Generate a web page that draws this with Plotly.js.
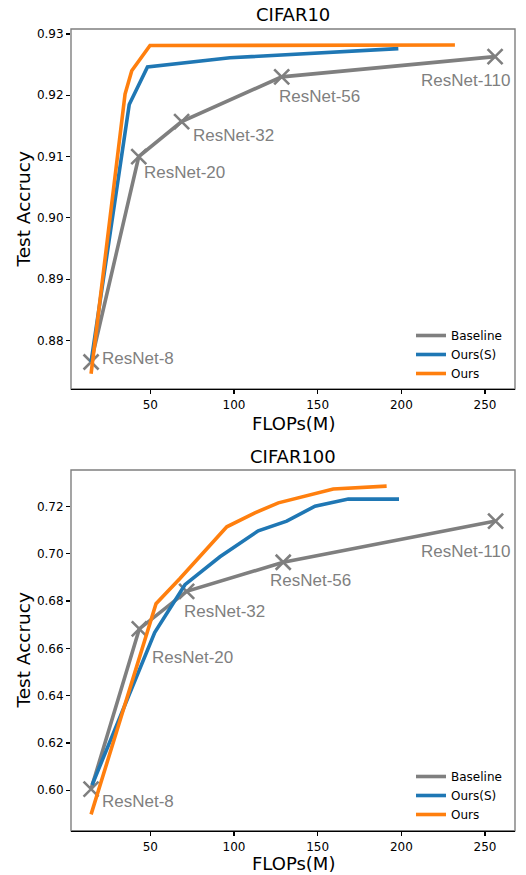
<!DOCTYPE html>
<html>
<head>
<meta charset="utf-8">
<script src="https://cdn.plot.ly/plotly-3.0.1.min.js"></script>
<style>html,body{margin:0;padding:0;background:#fff;}#chart{width:526px;height:875px;}</style>
</head>
<body>
<div id="chart"></div>
<script>
// ---- data ----
const modelNames = ["ResNet-8", "ResNet-20", "ResNet-32", "ResNet-56", "ResNet-110"];

// CIFAR10
const c10BaseX = [14.6, 43.1, 68.7, 128.5, 256.0];
const c10BaseY = [0.8765, 0.9100, 0.9157, 0.9230, 0.9263];
const c10SX = [14.6, 37.4, 48.3, 97.6, 198.2];
const c10SY = [0.8765, 0.9185, 0.9246, 0.9261, 0.9276];
const c10OX = [14.6, 34.9, 38.9, 49.8, 232.0];
const c10OY = [0.8746, 0.9202, 0.9240, 0.9281, 0.9282];

// CIFAR100
const c100BaseX = [14.6, 43.4, 71.7, 129.4, 256.3];
const c100BaseY = [0.6005, 0.6682, 0.6841, 0.6964, 0.7138];
const c100SX = [15.2, 52.6, 70.7, 91.6, 114.5, 131.5, 148.4, 168.3, 198.6];
const c100SY = [0.6022, 0.6667, 0.6869, 0.6987, 0.7097, 0.7138, 0.7201, 0.7231, 0.7231];
const c100OX = [14.6, 53.4, 67.7, 83.7, 95.7, 112.5, 126.5, 159.3, 191.2];
const c100OY = [0.5898, 0.6789, 0.6895, 0.7020, 0.7114, 0.7173, 0.7215, 0.7274, 0.7286];

const seriesNames = ["Baseline", "Ours(S)", "Ours"];
const xTicks = [50, 100, 150, 200, 250];
const c10YTicks = [0.88, 0.89, 0.90, 0.91, 0.92, 0.93];
const c100YTicks = [0.60, 0.62, 0.64, 0.66, 0.68, 0.70, 0.72];

// ---- style ----
const GRAY = "#7f7f7f", BLUE = "#1f77b4", ORANGE = "#ff7f0e";
const W = 526, H = 875;
const FONT = "DejaVu Sans";
const LW = 3.6;

function line(x, y, color, name, xa, ya, legend, show) {
  return {x, y, type: "scatter", mode: "lines", name, xaxis: xa, yaxis: ya,
    line: {color, width: LW}, legend, showlegend: show, hoverinfo: "skip"};
}
function base(x, y, xa, ya) {
  return {x, y, type: "scatter", mode: "lines+markers", name: seriesNames[0], xaxis: xa, yaxis: ya,
    line: {color: GRAY, width: LW}, showlegend: false,
    marker: {symbol: "x-thin", size: 15, color: GRAY, line: {color: GRAY, width: 2.6}}, hoverinfo: "skip"};
}
// legend-only entry for the baseline (line sample without the marker)
function baseKey(xa, ya, legend) {
  return {x: [null], y: [null], type: "scatter", mode: "lines", name: seriesNames[0], xaxis: xa, yaxis: ya,
    line: {color: GRAY, width: LW}, legend, showlegend: true, hoverinfo: "skip"};
}

const traces = [
  base(c10BaseX, c10BaseY, "x", "y"),
  baseKey("x", "y", "legend"),
  line(c10SX, c10SY, BLUE, seriesNames[1], "x", "y", "legend", true),
  line(c10OX, c10OY, ORANGE, seriesNames[2], "x", "y", "legend", true),
  base(c100BaseX, c100BaseY, "x2", "y2"),
  baseKey("x2", "y2", "legend2"),
  line(c100SX, c100SY, BLUE, seriesNames[1], "x2", "y2", "legend2", true),
  line(c100OX, c100OY, ORANGE, seriesNames[2], "x2", "y2", "legend2", true),
];

const px = v => v / W;
const py = v => 1 - v / H;
const xDom = [px(71), px(515)];
const topDom = [py(389), py(29)];
const botDom = [py(830.7), py(470)];

function xaxis(dom, anchor) {
  return {domain: dom, anchor, range: [2.6, 267.9], tickvals: xTicks, ticktext: xTicks.map(String),
    ticks: "outside", ticklen: 4, tickwidth: 1.2, tickcolor: "#000",
    showline: true, linecolor: "#000", linewidth: 1.4, mirror: false,
    showgrid: false, zeroline: false, tickfont: {family: FONT, size: 12, color: "#000"}};
}
function yaxis(dom, anchor, range, ticks) {
  return {domain: dom, anchor, range, tickvals: ticks, ticktext: ticks.map(v => v.toFixed(2)),
    ticks: "outside", ticklen: 4, tickwidth: 1.2, tickcolor: "#000",
    showline: false, showgrid: false, zeroline: false,
    tickfont: {family: FONT, size: 12, color: "#000"}};
}

const labelOffsetsTop = [[9, 4, "left"], [3, -16, "left"], [9, -14, "left"], [-5, -20, "left"], [17, -24, "right"]];
const labelOffsetsBot = [[9, -12, "left"], [11, -29, "left"], [-5, -20, "left"], [-15, -18, "left"], [16, -30, "right"]];

const annotations = [];
function addLabels(xs, ys, xr, yr, offs) {
  modelNames.forEach((n, i) => {
    annotations.push({x: xs[i], y: ys[i], xref: xr, yref: yr, text: n, showarrow: false,
      xanchor: offs[i][2], yanchor: "middle", xshift: offs[i][0], yshift: offs[i][1],
      font: {family: "Liberation Sans", size: 17, color: GRAY}});
  });
}
addLabels(c10BaseX, c10BaseY, "x", "y", labelOffsetsTop);
addLabels(c100BaseX, c100BaseY, "x2", "y2", labelOffsetsBot);

function txt(text, x, y, size, angle) {
  annotations.push({text, x: px(x), y: py(y), xref: "paper", yref: "paper", showarrow: false,
    xanchor: "center", yanchor: "middle", textangle: angle || 0,
    font: {family: FONT, size, color: "#000"}});
}
txt("CIFAR10", 293, 15, 18);
txt("CIFAR100", 293, 456.5, 18);
txt("FLOPs(M)", 293, 423.3, 18);
txt("FLOPs(M)", 293, 863.3, 18);
txt("Test Accrucy", 22.5, 210, 18.5, -90);
txt("Test Accrucy", 22.5, 651, 18.5, -90);

const frame = (yd) => ({type: "rect", xref: "paper", yref: "paper", x0: xDom[0], x1: xDom[1], y0: yd[0], y1: yd[1],
  line: {color: GRAY, width: 1.4}, fillcolor: "rgba(0,0,0,0)", layer: "below"});

const legendStyle = (y) => ({x: px(411), y: py(y), xanchor: "left", yanchor: "top",
  bgcolor: "rgba(255,255,255,0)", borderwidth: 0, font: {family: FONT, size: 12, color: "#000"},
  tracegroupgap: 0});

const layout = {
  width: W, height: H, margin: {l: 0, r: 0, t: 0, b: 0},
  paper_bgcolor: "#fff", plot_bgcolor: "#fff",
  font: {family: FONT, color: "#000"},
  xaxis: xaxis(xDom, "y"),
  yaxis: yaxis(topDom, "x", [0.8721, 0.9308], c10YTicks),
  xaxis2: xaxis(xDom, "y2"),
  yaxis2: yaxis(botDom, "x2", [0.5829, 0.7354], c100YTicks),
  legend: legendStyle(321),
  legend2: legendStyle(762),
  shapes: [frame(topDom), frame(botDom)],
  annotations
};

Plotly.newPlot("chart", traces, layout, {staticPlot: true, displayModeBar: false});
</script>
</body>
</html>
